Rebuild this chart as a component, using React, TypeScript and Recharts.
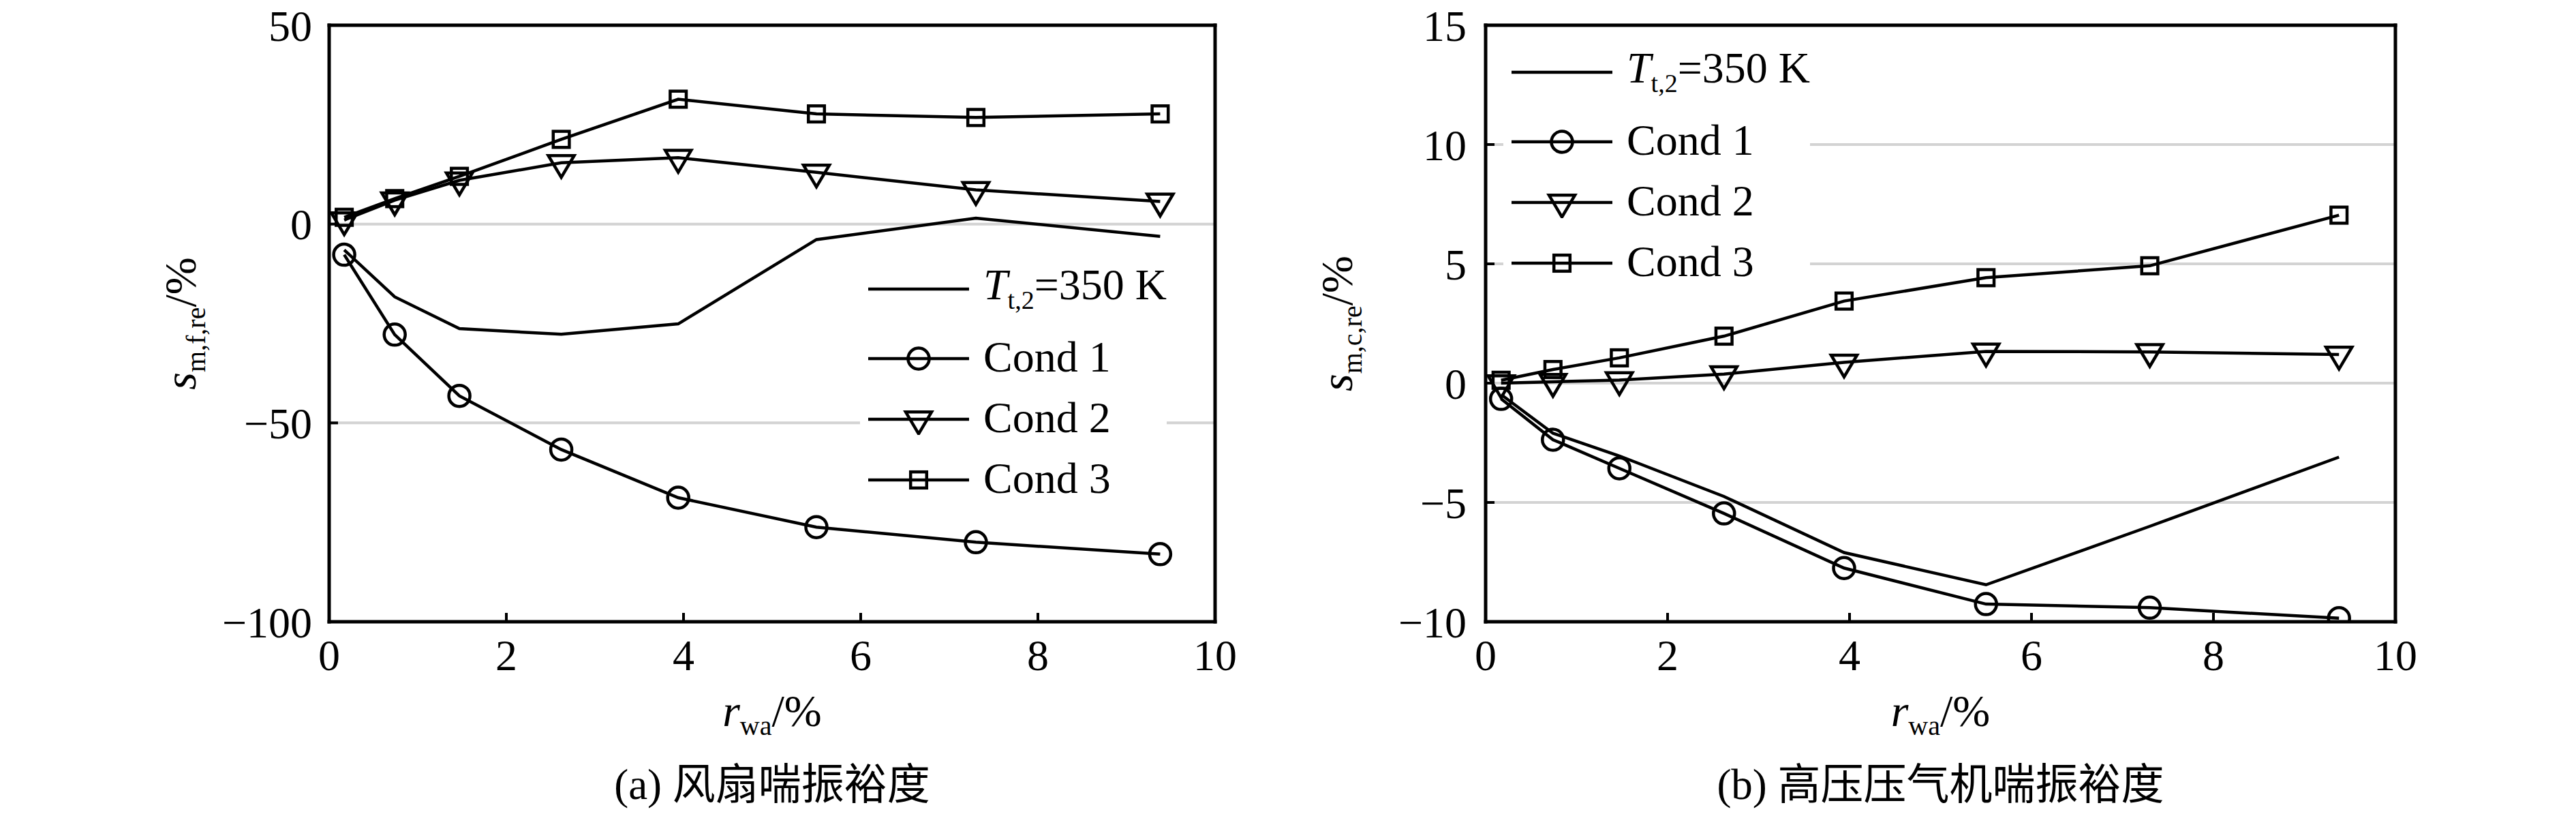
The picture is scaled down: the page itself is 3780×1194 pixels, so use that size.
import React from 'react';
import { LineChart, Line, XAxis, YAxis, CartesianGrid, Legend } from 'recharts';

// r_wa values (%) shared by both panels
const rwa = [0.17, 0.74, 1.47, 2.62, 3.94, 5.5, 7.3, 9.38];

// (a) fan surge margin
const fanT350 = [-6.5, -18.3, -26.3, -27.7, -25.1, -3.9, 1.5, -3.1];
const fanCond1 = [-7.7, -27.8, -43.2, -56.7, -68.8, -76.2, -80.0, -83.0];
const fanCond2 = [1.0, 6.0, 11.0, 15.4, 16.7, 13.0, 8.6, 5.7];
const fanCond3 = [1.7, 6.4, 12.0, 21.3, 31.4, 27.7, 26.8, 27.7];

// (b) HPC surge margin
const hpcT350 = [-0.48, -2.1, -3.05, -4.75, -7.1, -8.45, -6.0, -3.1];
const hpcCond1 = [-0.66, -2.37, -3.57, -5.46, -7.75, -9.26, -9.41, -9.85];
const hpcCond2 = [0.0, 0.06, 0.13, 0.38, 0.87, 1.33, 1.31, 1.2];
const hpcCond3 = [0.12, 0.57, 1.06, 1.97, 3.44, 4.42, 4.92, 7.04];

const xTicks = [0, 2, 4, 6, 8, 10];
const fanTicks = [-100, -50, 0, 50];
const hpcTicks = [-10, -5, 0, 5, 10, 15];

const SERIF = 'Liberation Serif';
const CJK = 'Noto Sans CJK SC';
const LW = 4.5;

const buildRows = (t: number[], c1: number[], c2: number[], c3: number[]) =>
  rwa.map((x, i) => ({ x, t: t[i], c1: c1[i], c2: c2[i], c3: c3[i] }));

const fanRows = buildRows(fanT350, fanCond1, fanCond2, fanCond3);
const hpcRows = buildRows(hpcT350, hpcCond1, hpcCond2, hpcCond3);

type Kind = 'none' | 'circle' | 'triangle' | 'square';

const Marker = ({ kind, cx, cy }: { kind: Kind; cx: number; cy: number }) => {
  if (kind === 'circle') {
    return <circle cx={cx} cy={cy} r={15.5} fill="none" stroke="#000" strokeWidth={LW} />;
  }
  if (kind === 'square') {
    return <rect x={cx - 11.8} y={cy - 11.8} width={23.6} height={23.6} fill="none" stroke="#000" strokeWidth={LW} />;
  }
  if (kind === 'triangle') {
    const w = 38;
    const h = 32;
    const top = cy - h / 3;
    const pts = `${cx - w / 2},${top} ${cx + w / 2},${top} ${cx},${top + h}`;
    return <polygon points={pts} fill="none" stroke="#000" strokeWidth={LW} strokeLinejoin="miter" />;
  }
  return null;
};

const dotOf = (kind: Kind) => (p: any) =>
  <Marker key={`${kind}-${p.index}`} kind={kind} cx={p.cx} cy={p.cy} />;

const series = [
  { key: 't', name: 'T350', kind: 'none' as Kind },
  { key: 'c1', name: 'Cond 1', kind: 'circle' as Kind },
  { key: 'c2', name: 'Cond 2', kind: 'triangle' as Kind },
  { key: 'c3', name: 'Cond 3', kind: 'square' as Kind },
];

const rowCenters = [50, 152, 241, 330];

const LegendLabel = ({ name }: { name: string }) =>
  name === 'T350' ? (
    <span>
      <i>T</i>
      <span style={{ fontSize: 38, position: 'relative', top: 14 }}>t,2</span>=350 K
    </span>
  ) : (
    <span>{name}</span>
  );

// legend rows follow the plotting order of the series
const LegendBox = () => (
  <div style={{ position: 'relative', width: 450, height: 380, background: '#fff' }}>
    {series.map((s, i) => (
      <div
        key={s.name}
        style={{
          position: 'absolute',
          left: 12,
          top: rowCenters[i] - 45,
          height: 90,
          display: 'flex',
          alignItems: 'center',
        }}
      >
        <svg width={148} height={50} style={{ display: 'block' }}>
          <line x1={0} x2={148} y1={27} y2={27} stroke="#000" strokeWidth={LW} />
          <Marker kind={s.kind} cx={74} cy={27} />
        </svg>
        <span style={{ marginLeft: 21, fontFamily: SERIF, fontSize: 64, lineHeight: '90px', whiteSpace: 'nowrap', color: '#000' }}>
          <LegendLabel name={s.name} />
        </span>
      </div>
    ))}
  </div>
);

const fmtTick = (v: number) => (v < 0 ? `\u2212${Math.abs(v)}` : `${v}`);

interface PanelProps {
  rows: any[];
  yDomain: [number, number];
  yTicks: number[];
  plotLeft: number;
  plotRight: number;
  yTickMargin: number;
  ySub: string;
  legendLeft: number;
  legendTop: number;
  tag: string;
  caption: string;
}

const W = 1890;
const H = 1194;
const TOP = 37;
const BOTTOM = 912;
const YAXIS_W = 200;
const XAXIS_H = 150;

const Panel = ({ rows, yDomain, yTicks, plotLeft, plotRight, yTickMargin, ySub, legendLeft, legendTop, tag, caption }: PanelProps) => {
  const cxPlot = (plotLeft + plotRight) / 2;
  const cyPlot = (TOP + BOTTOM) / 2;

  const xTitle = (p: any) => {
    const vb = p && p.viewBox ? p.viewBox : null;
    const cx = vb && vb.width ? vb.x + vb.width / 2 : cxPlot;
    const y0 = vb && vb.y != null ? vb.y : BOTTOM;
    return (
      <g>
        <text x={cx} y={y0 + 153} textAnchor="middle" fontFamily={SERIF} fontSize={66} fill="#000">
          <tspan fontStyle="italic">r</tspan>
          <tspan fontSize={40} dy={13}>wa</tspan>
          <tspan dy={-13}>/%</tspan>
        </text>
        <text x={cx} y={y0 + 260} textAnchor="middle" fontSize={63} fill="#000">
          <tspan fontFamily={SERIF}>{tag} </tspan>
          <tspan fontFamily={CJK}>{caption}</tspan>
        </text>
      </g>
    );
  };

  const yTitle = (p: any) => {
    const vb = p && p.viewBox ? p.viewBox : null;
    const right = vb && vb.width ? vb.x + vb.width : plotLeft;
    const cy = vb && vb.height ? vb.y + vb.height / 2 : cyPlot;
    const bx = right - 196;
    return (
      <text x={bx} y={cy} transform={`rotate(-90, ${bx}, ${cy})`} textAnchor="middle" fontFamily={SERIF} fontSize={66} fill="#000">
        <tspan fontStyle="italic">s</tspan>
        <tspan fontSize={40} dy={14}>{ySub}</tspan>
        <tspan dy={-14}>/%</tspan>
      </text>
    );
  };

  const axisLine = { stroke: '#000', strokeWidth: 5, strokeLinecap: 'square' as const };
  const tickLine = { stroke: '#000', strokeWidth: 4 };
  const tickStyle = { fontFamily: SERIF, fontSize: 64, fill: '#000' };

  return (
    <LineChart
      width={W}
      height={H}
      data={rows}
      margin={{ top: TOP - 1, right: W - plotRight - 1, bottom: H - BOTTOM - XAXIS_H, left: plotLeft - YAXIS_W }}
    >
      <CartesianGrid vertical={false} stroke="#d3d3d3" strokeWidth={4} />
      <XAxis
        dataKey="x"
        type="number"
        domain={[0, 10]}
        ticks={xTicks}
        allowDataOverflow
        height={XAXIS_H}
        tickSize={-13}
        tickMargin={39}
        axisLine={axisLine}
        tickLine={tickLine}
        tick={tickStyle}
        label={{ content: xTitle }}
      />
      <XAxis
        xAxisId="top"
        dataKey="x"
        orientation="top"
        type="number"
        domain={[0, 10]}
        ticks={xTicks}
        allowDataOverflow
        height={1}
        tickSize={-13}
        axisLine={axisLine}
        tickLine={tickLine}
        tick={false}
      />
      <YAxis
        type="number"
        domain={yDomain}
        ticks={yTicks}
        allowDataOverflow
        width={YAXIS_W}
        tickSize={-13}
        tickMargin={yTickMargin}
        tickFormatter={fmtTick}
        axisLine={axisLine}
        tickLine={tickLine}
        tick={tickStyle}
        label={{ content: yTitle }}
      />
      <YAxis
        yAxisId="right"
        orientation="right"
        type="number"
        domain={yDomain}
        ticks={yTicks}
        allowDataOverflow
        width={1}
        tickSize={-13}
        axisLine={axisLine}
        tickLine={tickLine}
        tick={false}
      />
      {series.map((s) => (
        <Line
          key={s.key}
          type="linear"
          dataKey={s.key}
          name={s.name}
          stroke="#000"
          strokeWidth={LW}
          dot={s.kind === 'none' ? false : dotOf(s.kind)}
          activeDot={false}
          isAnimationActive={false}
        />
      ))}
      <Legend
        layout="vertical"
        align="center"
        verticalAlign="middle"
        content={LegendBox}
        wrapperStyle={{ left: legendLeft, top: legendTop, width: 450, height: 380 }}
      />
    </LineChart>
  );
};

const App = () => (
  <div style={{ position: 'absolute', left: 0, top: 0, width: 3780, height: 1194, background: '#fff', display: 'flex' }}>
    <Panel
      rows={fanRows}
      yDomain={[-100, 50]}
      yTicks={fanTicks}
      plotLeft={483}
      plotRight={1783}
      yTickMargin={38}
      ySub="m,f,re"
      legendLeft={1262}
      legendTop={372}
      tag="(a)"
      caption="风扇喘振裕度"
    />
    <Panel
      rows={hpcRows}
      yDomain={[-10, 15]}
      yTicks={hpcTicks}
      plotLeft={290}
      plotRight={1625}
      yTickMargin={41}
      ySub="m,c,re"
      legendLeft={316}
      legendTop={54}
      tag="(b)"
      caption="高压压气机喘振裕度"
    />
  </div>
);

export default App;
